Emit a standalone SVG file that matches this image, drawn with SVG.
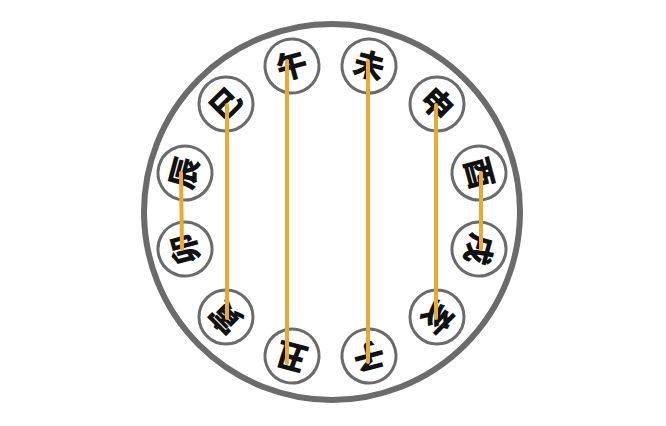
<svg xmlns="http://www.w3.org/2000/svg" width="666" height="426" viewBox="0 0 666 426">
<style>
.ring{fill:none;stroke:#6b6b6b;stroke-width:6}
.node circle{fill:#fff;stroke:#6b6b6b;stroke-width:3}
.node text{font-family:"Noto Sans CJK SC","Noto Sans CJK TC",sans-serif;font-weight:900;font-size:31px;fill:#111;text-anchor:middle}
.link{stroke:#EAA930;stroke-width:4;stroke-linecap:round}
</style>
<rect width="666" height="426" fill="#fff"/>
<circle class="ring" cx="332" cy="212" r="188"/>
<g id="wu" class="node" transform="translate(292,66) rotate(-15)"><circle r="27"/><text y="11">午</text></g>
<g id="wei" class="node" transform="translate(369,66) rotate(15)"><circle r="27"/><text y="11">未</text></g>
<g id="shen" class="node" transform="translate(437,104) rotate(45)"><circle r="27"/><text y="11">申</text></g>
<g id="you" class="node" transform="translate(479,173) rotate(75)"><circle r="27"/><text y="11">酉</text></g>
<g id="xu" class="node" transform="translate(479,249) rotate(105)"><circle r="27"/><text y="11">戌</text></g>
<g id="hai" class="node" transform="translate(437,317) rotate(135)"><circle r="27"/><text y="11">亥</text></g>
<g id="zi" class="node" transform="translate(369,356) rotate(165)"><circle r="27"/><text y="11">子</text></g>
<g id="chou" class="node" transform="translate(292,356) rotate(195)"><circle r="27"/><text y="11">丑</text></g>
<g id="yin" class="node" transform="translate(226,317) rotate(225)"><circle r="27"/><text y="11">寅</text></g>
<g id="mao" class="node" transform="translate(185,249) rotate(255)"><circle r="27"/><text y="11">卯</text></g>
<g id="chen" class="node" transform="translate(185,173) rotate(285)"><circle r="27"/><text y="11">辰</text></g>
<g id="si" class="node" transform="translate(226,104) rotate(315)"><circle r="27"/><text y="11">巳</text></g>
<g id="connectors">
<line class="link" x1="227" y1="105" x2="227" y2="318"/>
<line class="link" x1="287" y1="61" x2="287" y2="363"/>
<line class="link" x1="368" y1="61" x2="368" y2="362"/>
<line class="link" x1="436" y1="105" x2="436" y2="318"/>
<line class="link" x1="181" y1="173" x2="182" y2="249"/>
<line class="link" x1="481" y1="173" x2="481" y2="249"/>
</g>
</svg>
